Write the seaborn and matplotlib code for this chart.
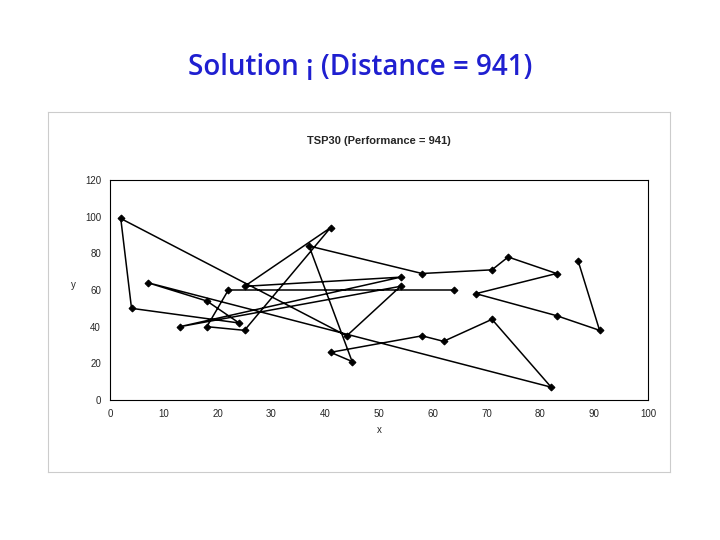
import matplotlib
matplotlib.use('Agg')
import matplotlib.pyplot as plt
import seaborn as sns
import pandas as pd

# tour order through the 30 cities
tour_x = [87, 91, 83, 68, 83, 74, 71, 58, 37, 45, 41, 58, 62, 71, 82, 7, 18, 24, 4, 2,
          44, 54, 13, 54, 25, 41, 25, 18, 22, 64]
tour_y = [76, 38, 46, 58, 69, 78, 71, 69, 84, 21, 26, 35, 32, 44, 7, 64, 54, 42, 50, 99,
          35, 62, 40, 67, 62, 94, 38, 40, 60, 60]

df = pd.DataFrame({'x': tour_x, 'y': tour_y})

sns.set_style('white')
plt.rcParams['font.family'] = ['Liberation Sans', 'DejaVu Sans']

fig = plt.figure(figsize=(7.2, 5.4), dpi=100)
fig.text(0.5, 0.875, 'Solution ¡ (Distance = 941)', ha='center', va='center', color='#1f1fd0',
         fontsize=20, fontweight='semibold', family=['Open Sans', 'DejaVu Sans'])

# outer chart frame
frame = fig.add_axes([48/720, 1-472/540, 622/720, 360/540])
frame.set_xticks([]); frame.set_yticks([])
for s in frame.spines.values():
    s.set_color('#cccccc'); s.set_linewidth(0.8)

ax = fig.add_axes([110/720, 1-400/540, 538/720, 220/540])
sns.lineplot(data=df, x='x', y='y', sort=False, estimator=None, color='black', lw=1.1,
             marker='D', markersize=3.5, markeredgecolor='black', ax=ax)
ax.set_xlim(0, 100); ax.set_ylim(0, 120)
ax.set_xticks(range(0, 101, 10)); ax.set_yticks(range(0, 121, 20))
ax.tick_params(labelsize=7, length=3, direction='out')
ax.set_xlabel('x', fontsize=7)
ax.set_ylabel('y', fontsize=7, rotation=0, labelpad=8)
for s in ax.spines.values():
    s.set_linewidth(0.8); s.set_color('black')
ax.set_title('TSP30 (Performance = 941)', fontsize=8, fontweight='bold', pad=26)

fig.savefig('out.png', dpi=100)
